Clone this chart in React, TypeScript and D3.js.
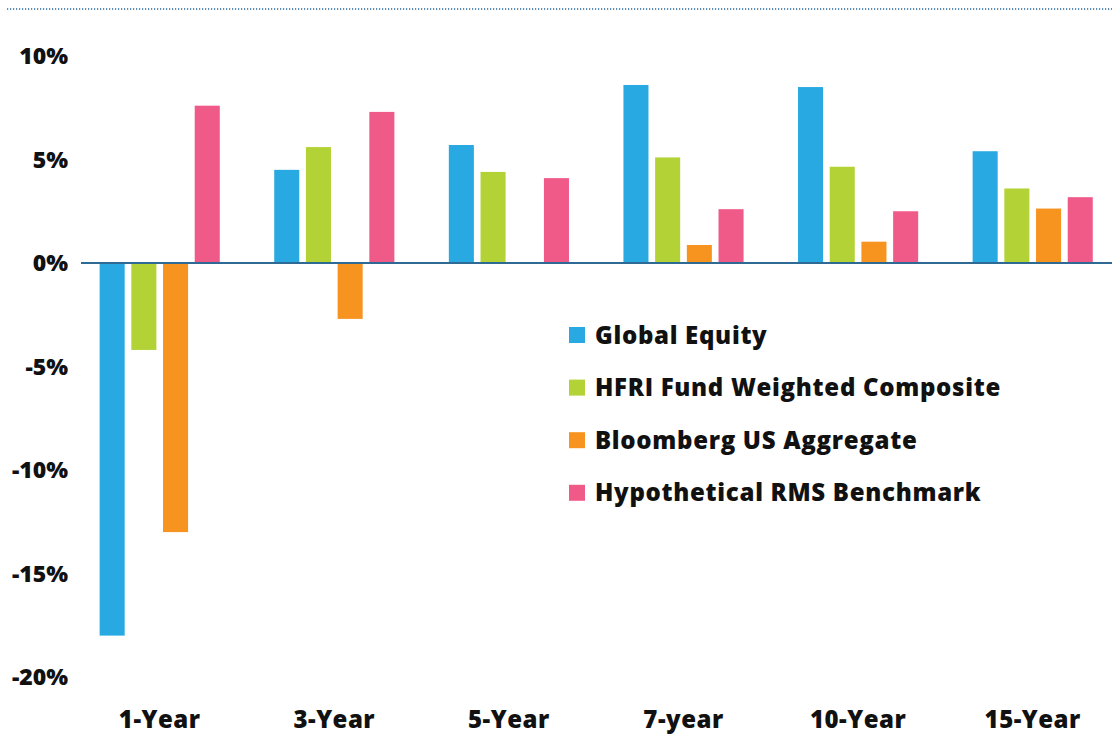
import * as d3 from "d3";

const periods = ["1-Year", "3-Year", "5-Year", "7-year", "10-Year", "15-Year"];
const seriesNames = [
  "Global Equity",
  "HFRI Fund Weighted Composite",
  "Bloomberg US Aggregate",
  "Hypothetical RMS Benchmark",
];
const globalEquity = [-18.0, 4.5, 5.7, 8.6, 8.5, 5.4];
const hfriComposite = [-4.2, 5.6, 4.4, 5.1, 4.65, 3.6];
const bloombergAgg = [-13.0, -2.7, 0, 0.87, 1.03, 2.63];
const rmsBenchmark = [7.6, 7.3, 4.1, 2.6, 2.5, 3.18];
const yTicks = [10, 5, 0, -5, -10, -15, -20];

const seriesValues = [globalEquity, hfriComposite, bloombergAgg, rmsBenchmark];
const colors = ["#29a9e1", "#b3d235", "#f7941f", "#f05a89"];

const width = 1112;
const height = 740;
const font = "'Open Sans', 'DejaVu Sans', sans-serif";

export default function App() {
  const x = d3.scaleBand<string>().domain(periods).range([72.4, 1120]);
  const inner = d3
    .scaleBand<string>()
    .domain(seriesNames)
    .range([-63.4, 63.4])
    .paddingInner(0.21)
    .paddingOuter(0.105);
  const y = d3.scaleLinear().domain([-20, 10]).range([677, 56]);

  return (
    <svg
      width={width}
      height={height}
      style={{ position: "fixed", top: 0, left: 0, background: "#fff" }}
      fontFamily={font}
    >
      {/* dotted rule across the top */}
      <line
        x1={7}
        x2={width}
        y1={9}
        y2={9}
        stroke="#5b8db8"
        strokeWidth={2}
        strokeDasharray="1.2 1.8"
      />

      {yTicks.map((t) => (
        <text
          key={t}
          x={68}
          y={y(t)}
          dy="0.36em"
          textAnchor="end"
          fontSize={23}
          fontWeight={800}
          fill="#111"
        >
          {t}%
        </text>
      ))}

      {periods.map((p, i) => (
        <g key={p} transform={`translate(${x(p)! + x.bandwidth() / 2},0)`}>
          {seriesNames.map((s, j) => {
            const v = seriesValues[j][i];
            if (v === 0) return null;
            return (
              <rect
                key={s}
                x={inner(s)!}
                width={inner.bandwidth()}
                y={Math.min(y(v), y(0))}
                height={Math.abs(y(v) - y(0))}
                fill={colors[j]}
              />
            );
          })}
          <text
            y={728}
            textAnchor="middle"
            fontSize={24}
            fontWeight={800}
            fill="#111"
            letterSpacing={0.5}
          >
            {p}
          </text>
        </g>
      ))}

      <line
        x1={81}
        x2={width}
        y1={y(0)}
        y2={y(0)}
        stroke="#2f6a94"
        strokeWidth={2}
      />

      <g transform="translate(569,335)">
        {seriesNames.map((s, j) => (
          <g key={s} transform={`translate(0,${j * 52.6})`}>
            <rect x={0} y={-8} width={16} height={16} fill={colors[j]} />
            <text
              x={26}
              dy="0.36em"
              fontSize={24}
              fontWeight={800}
              fill="#111"
              letterSpacing={0.7}
            >
              {s}
            </text>
          </g>
        ))}
      </g>
    </svg>
  );
}
